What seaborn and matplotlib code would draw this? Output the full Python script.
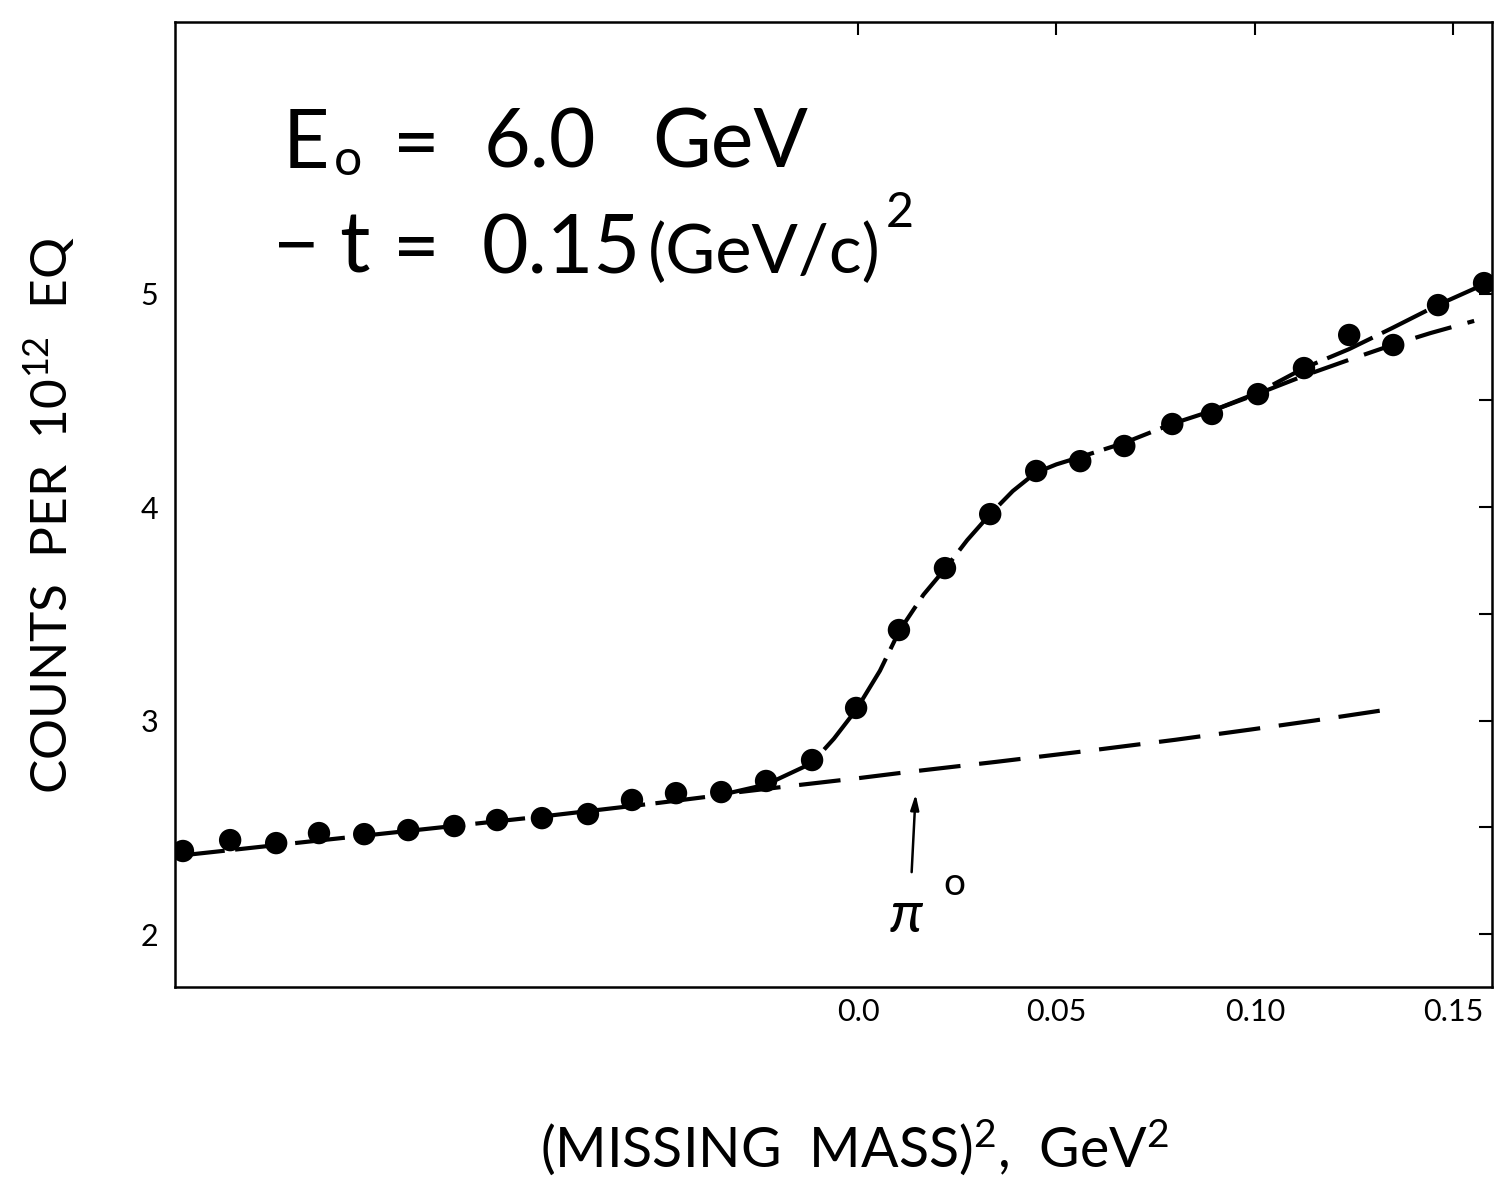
import matplotlib
matplotlib.use("Agg")
import matplotlib.pyplot as plt
import seaborn as sns

# ---------------- data ----------------
mm2 = [-0.1702, -0.1583, -0.1467, -0.1359, -0.1245, -0.1134, -0.1018, -0.0910, -0.0797, -0.0681,
       -0.0570, -0.0459, -0.0345, -0.0232, -0.0116, -0.0005, 0.0103, 0.0219, 0.0333, 0.0449,
       0.0560, 0.0671, 0.0792, 0.0892, 0.1008, 0.1124, 0.1238, 0.1349, 0.1462, 0.1578]
counts = [2.389, 2.440, 2.426, 2.473, 2.468, 2.487, 2.506, 2.534, 2.543, 2.562,
          2.628, 2.660, 2.665, 2.717, 2.815, 3.059, 3.424, 3.714, 3.967, 4.169,
          4.215, 4.286, 4.389, 4.436, 4.529, 4.651, 4.806, 4.759, 4.946, 5.049]

# fitted curve (signal + background), upper branch
fit_x = [-0.1722, -0.14, -0.11, -0.08, -0.05, -0.035, -0.0232, -0.0117, -0.0061, -0.0005,
         0.0055, 0.0104, 0.0165, 0.0219, 0.0275, 0.0332, 0.0390, 0.0447, 0.0500, 0.0561,
         0.0670, 0.0792, 0.0891, 0.1007, 0.1124, 0.1238, 0.1348, 0.1461, 0.1598]
fit_y = [2.365, 2.43, 2.49, 2.55, 2.615, 2.65, 2.70, 2.80, 2.915, 3.05,
         3.233, 3.42, 3.59, 3.71, 3.845, 3.965, 4.075, 4.16, 4.20, 4.235,
         4.30, 4.39, 4.45, 4.535, 4.651, 4.74, 4.84, 4.946, 5.06]

# fitted curve, lower branch
fit2_x = [0.0891, 0.1007, 0.1124, 0.1238, 0.1348, 0.1443, 0.1553]
fit2_y = [4.45, 4.53, 4.615, 4.69, 4.76, 4.815, 4.872]

# background curve
bg_x = [-0.030, -0.015, 0.000, 0.013, 0.035, 0.057, 0.080, 0.099, 0.115, 0.1315]
bg_y = [2.665, 2.698, 2.73, 2.76, 2.807, 2.856, 2.91, 2.958, 3.0, 3.046]

x_ticks = [0.0, 0.05, 0.10, 0.15]
x_ticklabels = ["0.0", "0.05", "0.10", "0.15"]
y_ticks = [2, 3, 4, 5]
y_ticklabels = ["2", "3", "4", "5"]
y_minor = [2.5, 3.5, 4.5]

# ---------------- style ----------------
sns.set_style("white")
plt.rcParams["font.family"] = ["Lato", "DejaVu Sans"]
plt.rcParams["font.weight"] = "normal"
plt.rcParams["mathtext.default"] = "regular"
plt.rcParams["text.color"] = "black"
plt.rcParams["axes.labelcolor"] = "black"
plt.rcParams["xtick.color"] = "black"
plt.rcParams["ytick.color"] = "black"

W, H = 1497, 1179
fig = plt.figure(figsize=(W / 100, H / 100), dpi=100)
ax = fig.add_axes([175 / W, 1 - 987 / H, (1492 - 175) / W, (987 - 22) / H])


def fpos(px, py):
    return px / W, 1 - py / H


# curves
sns.lineplot(x=fit_x, y=fit_y, ax=ax, color="black", lw=3.0, estimator=None, sort=False)
ax.lines[-1].set_linestyle((0, (12, 2.5)))
sns.lineplot(x=fit2_x, y=fit2_y, ax=ax, color="black", lw=3.0, estimator=None, sort=False)
ax.lines[-1].set_linestyle((0, (9, 4)))
sns.lineplot(x=bg_x, y=bg_y, ax=ax, color="black", lw=3.0, estimator=None, sort=False)
ax.lines[-1].set_linestyle((0, (10, 4.5)))

# data points
sns.scatterplot(x=mm2, y=counts, ax=ax, color="black", s=260, edgecolor="none", zorder=5)

ax.set_xlim(-0.1722, 0.1598)
ax.set_ylim(1.752, 6.272)

ax.set_xticks(x_ticks)
ax.set_xticklabels(x_ticklabels)
ax.set_yticks(y_ticks)
ax.set_yticklabels(y_ticklabels)
ax.set_yticks(y_minor, minor=True)

for s in ax.spines.values():
    s.set_color("black")
    s.set_linewidth(1.8)

ax.tick_params(axis="both", which="both", direction="in", length=9.5, width=1.5,
               colors="black", top=True, right=True, labelsize=22, pad=8)
ax.tick_params(axis="y", which="major", pad=12)

# annotation: pi0 arrow
ax.annotate("", xy=(0.0145, 2.655), xytext=(0.0135, 2.29),
            arrowprops=dict(arrowstyle="-|>,head_length=0.9,head_width=0.25",
                            lw=1.8, color="black", shrinkA=0, shrinkB=0))
ax.text(0.0122, 2.085, "π", fontsize=42, style="italic", ha="center", va="center")
ax.text(0.0243, 2.235, "o", fontsize=28, ha="center", va="center")

# big labels inside the plot
big = 58
fig.text(*fpos(283, 168), "E", fontsize=big, va="baseline", ha="left")
fig.text(*fpos(334, 175), "o", fontsize=big * 0.62, va="baseline", ha="left")
fig.text(*fpos(416, 170), "=", fontsize=big, va="baseline", ha="center")
fig.text(*fpos(484, 168), "6.0", fontsize=big, va="baseline", ha="left")
fig.text(*fpos(652, 168), "GeV", fontsize=big, va="baseline", ha="left")

fig.text(*fpos(296, 272), "−", fontsize=big, va="baseline", ha="center")
fig.text(*fpos(354, 272), "t", fontsize=big * 1.05, va="baseline", ha="center")
fig.text(*fpos(416, 274), "=", fontsize=big, va="baseline", ha="center")
fig.text(*fpos(482, 273), "0.15", fontsize=big, va="baseline", ha="left")
fig.text(*fpos(648, 273), "(GeV/c)", fontsize=big * 0.85, va="baseline", ha="left")
fig.text(*fpos(886, 227), "2", fontsize=big * 0.6, va="baseline", ha="left")

# axis titles
fig.text(*fpos(50, 515), "COUNTS  PER  10$^{12}$  EQ", fontsize=37, rotation=90,
         ha="center", va="center")
fig.text(*fpos(855, 1147), "(MISSING  MASS)$^{2}$,  GeV$^{2}$", fontsize=40,
         ha="center", va="center")

fig.savefig("out.png", dpi=100, facecolor="white")
